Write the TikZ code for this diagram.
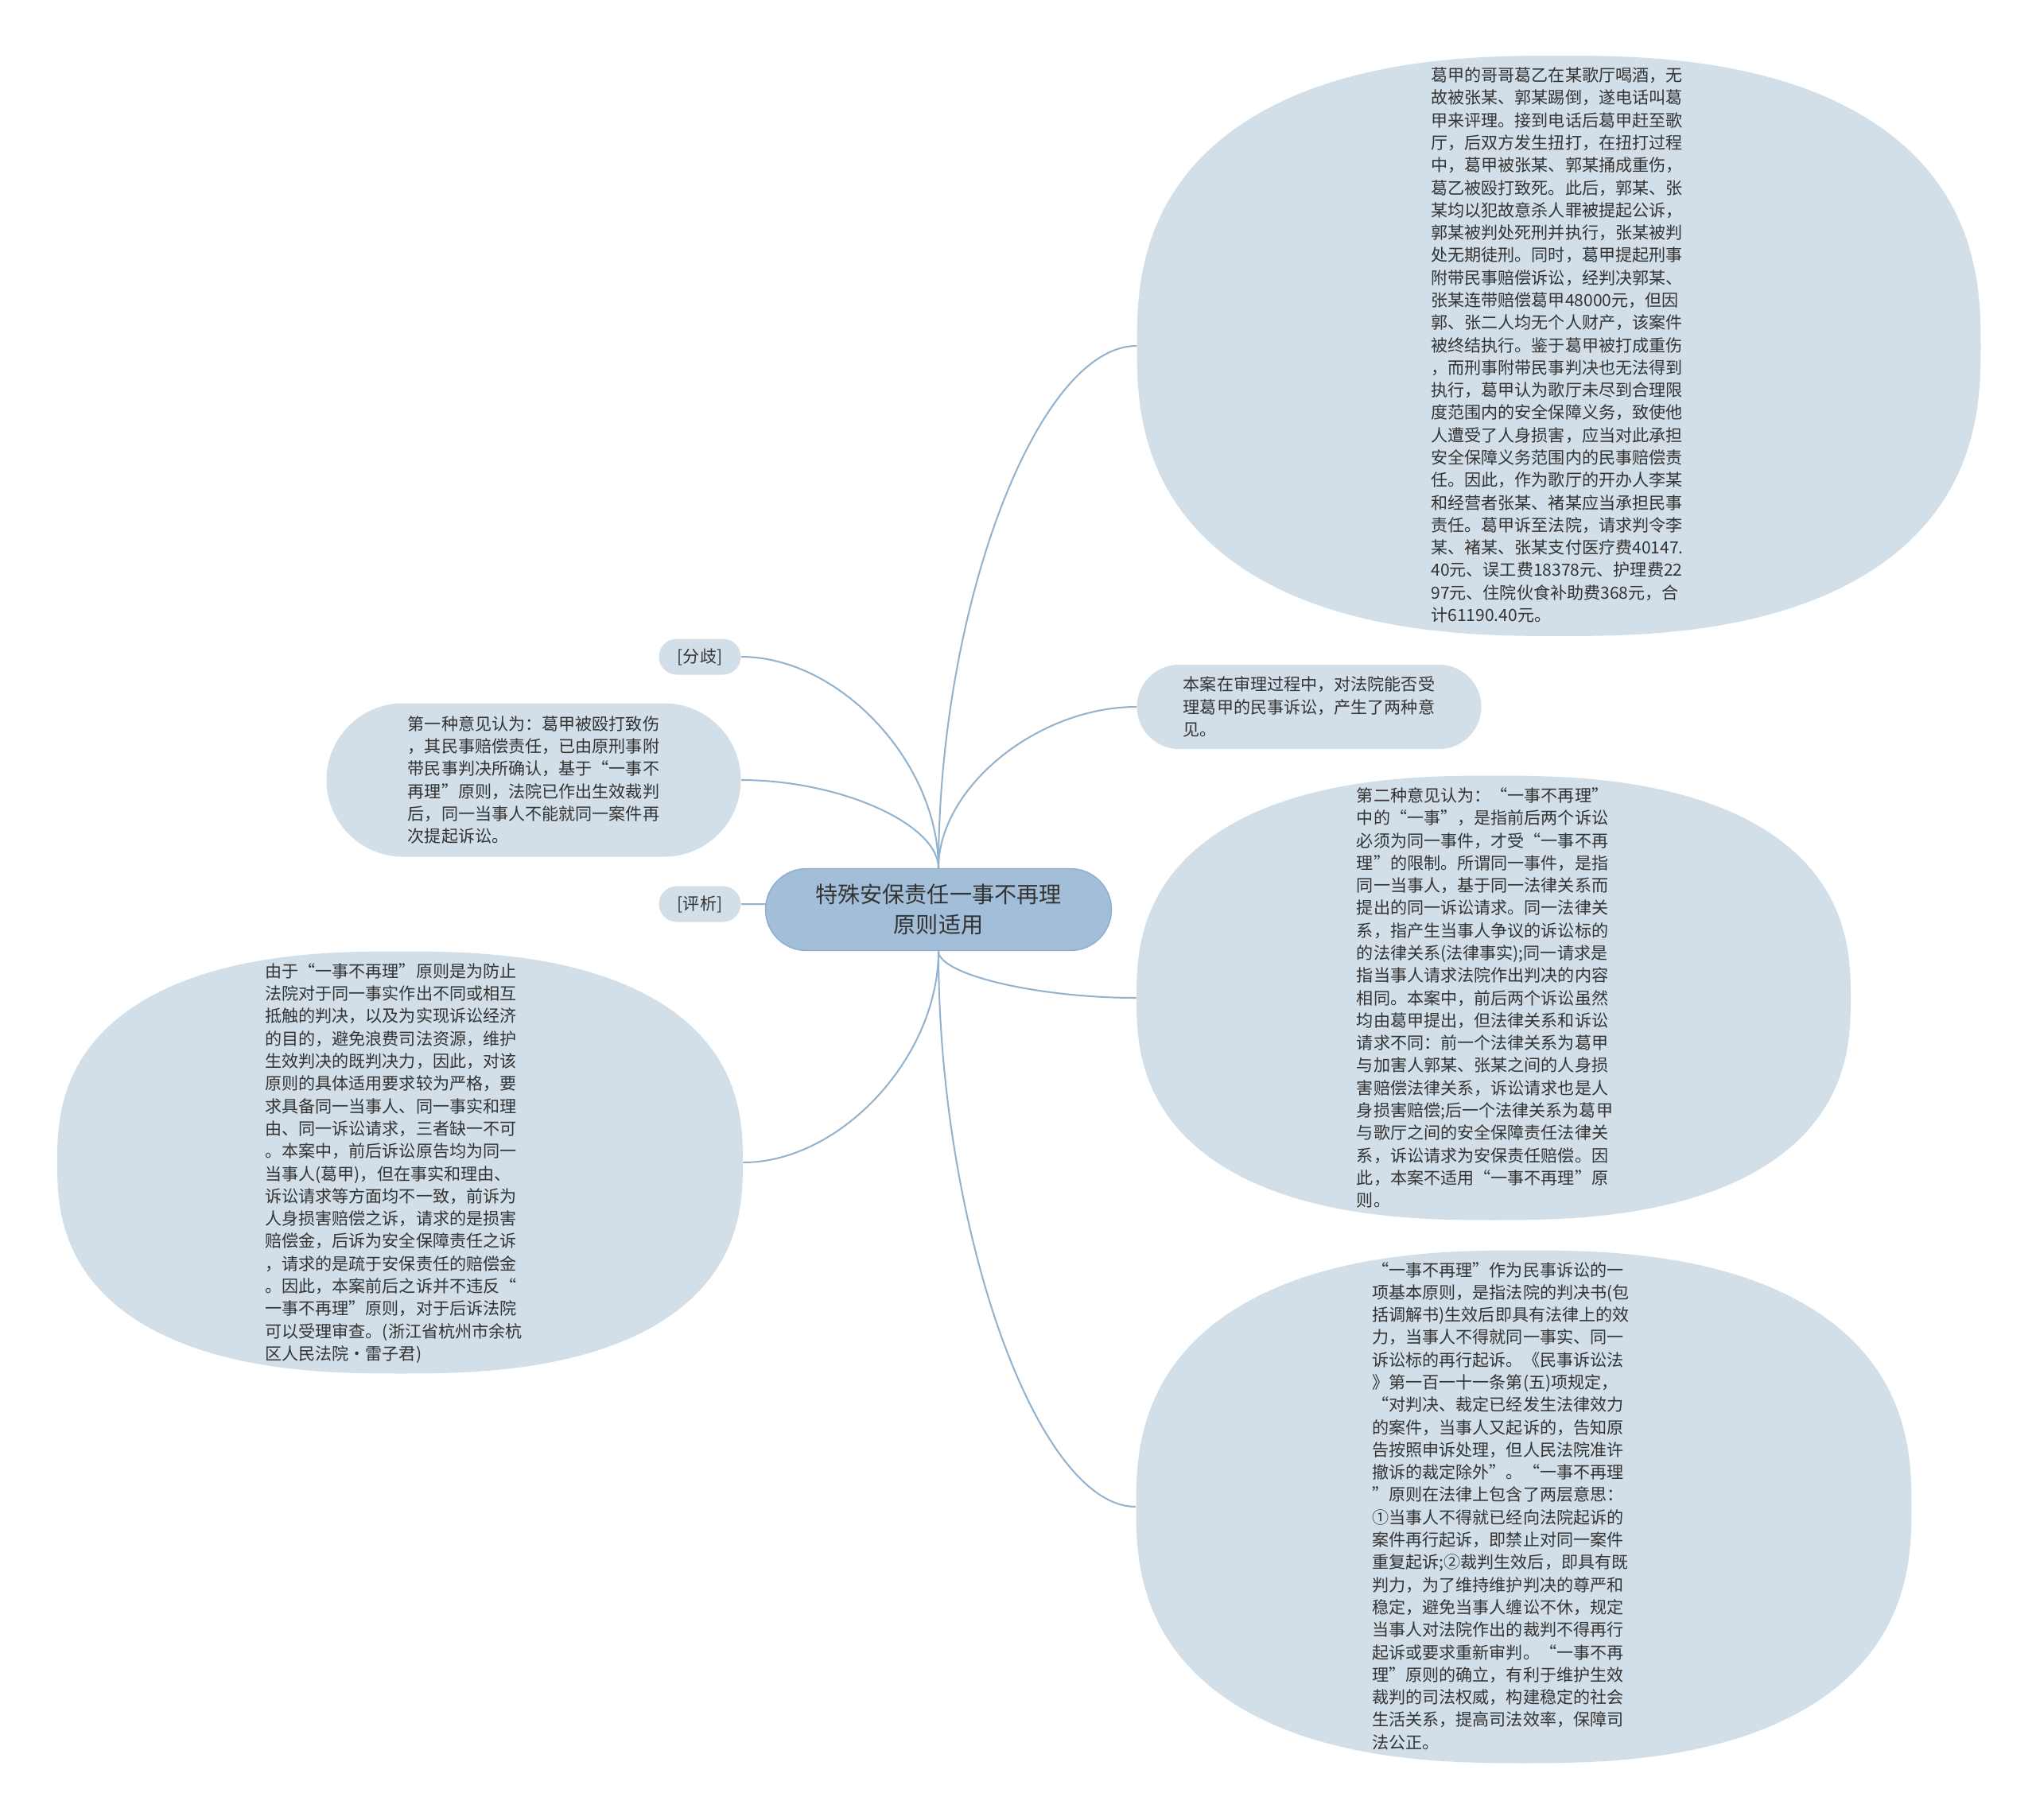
\documentclass[tikz,border=0pt]{standalone}
\usepackage{fontspec}
\newfontfamily\cjk{Noto Sans CJK SC}
\usepackage{xcolor}
\usepackage{tikz}
\usetikzlibrary{shapes.geometric,backgrounds,calc}
\definecolor{leafblue}{HTML}{D3DFE8}
\definecolor{rootblue}{HTML}{A3BED9}
\definecolor{rootedge}{HTML}{8EAECB}
\definecolor{linkblue}{HTML}{92B2CE}
\definecolor{inkgray}{HTML}{333333}

% squarish oval: centre x, centre y, half width, half height
\newcommand{\leafblob}[4]{%
  \fill[leafblue] plot[domain=0:360, samples=181, variable=\t]
    ({#1+#3*(cos(\t)<0 ? -1 : 1)*pow(abs(cos(\t)),0.8)},
     {#2+#4*(sin(\t)<0 ? -1 : 1)*pow(abs(sin(\t)),0.8)}) -- cycle;}

\begin{document}
\begin{tikzpicture}[
    leafoval/.style={ellipse, inner sep=0pt},
    leafpill/.style={rectangle, rounded corners=#1, fill=leafblue, inner sep=0pt},
    leaftext/.style={align=left, text=inkgray, inner sep=0pt, font=\cjk\fontsize{12}{16.1}\selectfont},
    rootpill/.style={rectangle, rounded corners=1.03cm, fill=rootblue, draw=rootedge, line width=0.8pt,
        minimum width=8.7cm, minimum height=2.06cm, align=center, text=inkgray,
        font=\cjk\fontsize{16}{22}\selectfont},
    link/.style={draw=linkblue, line width=1.15pt,
        to path={let \p1=(\tikztostart), \p2=(\tikztotarget) in
            .. controls (\x1,{0.5*(\y1+\y2)}) and ({0.5*(\x1+\x2)},\y2) .. (\tikztotarget)}}
]
    \useasboundingbox (0,0) rectangle (51.2,-45.78);

    % Root
    \node[rootpill] (root) at (23.6,-22.88) {特殊安保责任一事不再理\\原则适用};

    % Right side
    \leafblob{39.2}{-8.7}{10.61}{7.3}
    \node[leafoval, minimum width=21.22cm, minimum height=14.6cm] (kase) at (39.2,-8.7) {};
    \node[leaftext] (kase-txt) at (39.16,-8.68) {葛甲的哥哥葛乙在某歌厅喝酒，无\\
        故被张某、郭某踢倒，遂电话叫葛\\
        甲来评理。接到电话后葛甲赶至歌\\
        厅，后双方发生扭打，在扭打过程\\
        中，葛甲被张某、郭某捅成重伤，\\
        葛乙被殴打致死。此后，郭某、张\\
        某均以犯故意杀人罪被提起公诉，\\
        郭某被判处死刑并执行，张某被判\\
        处无期徒刑。同时，葛甲提起刑事\\
        附带民事赔偿诉讼，经判决郭某、\\
        张某连带赔偿葛甲48000元，但因\\
        郭、张二人均无个人财产，该案件\\
        被终结执行。鉴于葛甲被打成重伤\\
        ，而刑事附带民事判决也无法得到\\
        执行，葛甲认为歌厅未尽到合理限\\
        度范围内的安全保障义务，致使他\\
        人遭受了人身损害，应当对此承担\\
        安全保障义务范围内的民事赔偿责\\
        任。因此，作为歌厅的开办人李某\\
        和经营者张某、褚某应当承担民事\\
        责任。葛甲诉至法院，请求判令李\\
        某、褚某、张某支付医疗费40147.\\
        40元、误工费18378元、护理费22\\
        97元、住院伙食补助费368元，合\\
        计61190.40元。};

    \node[leafpill=1.06cm, minimum width=8.66cm, minimum height=2.12cm, leaftext] (yijian) at (32.92,-17.78)
        {本案在审理过程中，对法院能否受\\理葛甲的民事诉讼，产生了两种意\\见。};

    \leafblob{37.56}{-25.1}{8.98}{5.59}
    \node[leafoval, minimum width=17.96cm, minimum height=11.18cm] (dier) at (37.56,-25.1) {};
    \node[leaftext] (dier-txt) at (37.34,-25.1) {第二种意见认为：“一事不再理”\\
        中的“一事”，是指前后两个诉讼\\
        必须为同一事件，才受“一事不再\\
        理”的限制。所谓同一事件，是指\\
        同一当事人，基于同一法律关系而\\
        提出的同一诉讼请求。同一法律关\\
        系，指产生当事人争议的诉讼标的\\
        的法律关系(法律事实);同一请求是\\
        指当事人请求法院作出判决的内容\\
        相同。本案中，前后两个诉讼虽然\\
        均由葛甲提出，但法律关系和诉讼\\
        请求不同：前一个法律关系为葛甲\\
        与加害人郭某、张某之间的人身损\\
        害赔偿法律关系，诉讼请求也是人\\
        身损害赔偿;后一个法律关系为葛甲\\
        与歌厅之间的安全保障责任法律关\\
        系，诉讼请求为安保责任赔偿。因\\
        此，本案不适用“一事不再理”原\\
        则。};

    \leafblob{38.32}{-37.9}{9.75}{6.45}
    \node[leafoval, minimum width=19.5cm, minimum height=12.9cm] (yuanze) at (38.32,-37.9) {};
    \node[leaftext] (yuanze-txt) at (37.74,-37.88) {“一事不再理”作为民事诉讼的一\\
        项基本原则，是指法院的判决书(包\\
        括调解书)生效后即具有法律上的效\\
        力，当事人不得就同一事实、同一\\
        诉讼标的再行起诉。《民事诉讼法\\
        》第一百一十一条第(五)项规定，\\
        “对判决、裁定已经发生法律效力\\
        的案件，当事人又起诉的，告知原\\
        告按照申诉处理，但人民法院准许\\
        撤诉的裁定除外”。“一事不再理\\
        ”原则在法律上包含了两层意思：\\
        ①当事人不得就已经向法院起诉的\\
        案件再行起诉，即禁止对同一案件\\
        重复起诉;②裁判生效后，即具有既\\
        判力，为了维持维护判决的尊严和\\
        稳定，避免当事人缠讼不休，规定\\
        当事人对法院作出的裁判不得再行\\
        起诉或要求重新审判。“一事不再\\
        理”原则的确立，有利于维护生效\\
        裁判的司法权威，构建稳定的社会\\
        生活关系，提高司法效率，保障司\\
        法公正。};

    % Left side
    \node[leafpill=0.45cm, minimum width=2.06cm, minimum height=0.9cm, leaftext] (fenqi) at (17.6,-16.52) {[分歧]};

    \node[leafpill=1.93cm, minimum width=10.42cm, minimum height=3.86cm, leaftext] (diyi) at (13.42,-19.62)
        {第一种意见认为：葛甲被殴打致伤\\，其民事赔偿责任，已由原刑事附\\带民事判决所确认，基于“一事不\\再理”原则，法院已作出生效裁判\\后，同一当事人不能就同一案件再\\次提起诉讼。};

    \node[leafpill=0.45cm, minimum width=2.06cm, minimum height=0.9cm, leaftext] (pingxi) at (17.6,-22.74) {[评析]};

    \leafblob{10.06}{-29.24}{8.62}{5.31}
    \node[leafoval, minimum width=17.24cm, minimum height=10.62cm] (fenxi) at (10.06,-29.24) {};
    \node[leaftext] (fenxi-txt) at (9.9,-29.26) {由于“一事不再理”原则是为防止\\
        法院对于同一事实作出不同或相互\\
        抵触的判决，以及为实现诉讼经济\\
        的目的，避免浪费司法资源，维护\\
        生效判决的既判决力，因此，对该\\
        原则的具体适用要求较为严格，要\\
        求具备同一当事人、同一事实和理\\
        由、同一诉讼请求，三者缺一不可\\
        。本案中，前后诉讼原告均为同一\\
        当事人(葛甲)，但在事实和理由、\\
        诉讼请求等方面均不一致，前诉为\\
        人身损害赔偿之诉，请求的是损害\\
        赔偿金，后诉为安全保障责任之诉\\
        ，请求的是疏于安保责任的赔偿金\\
        。因此，本案前后之诉并不违反“\\
        一事不再理”原则，对于后诉法院\\
        可以受理审查。(浙江省杭州市余杭\\
        区人民法院·雷子君)};

    % Connections
    \begin{scope}[on background layer]
        \fill[white] (0,0) rectangle (51.2,-45.78);
        \draw[link] (root.north) to (kase.west);
        \draw[link] (root.north) to (yijian.west);
        \draw[link] (root.south) to (dier.west);
        \draw[link] (root.south) to (yuanze.west);
        \draw[link] (root.north) to (fenqi.east);
        \draw[link] (root.north) to (diyi.east);
        \draw[link] (root.center) to (pingxi.east);
        \draw[link] (root.south) to (fenxi.east);
    \end{scope}
\end{tikzpicture}
\end{document}
